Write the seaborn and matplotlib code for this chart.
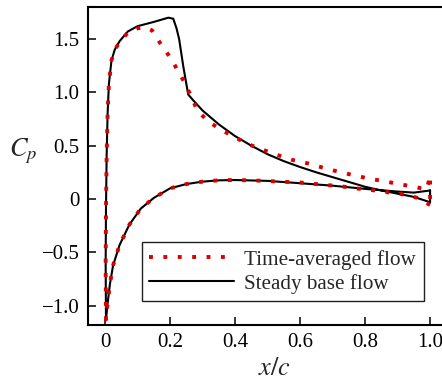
import matplotlib
matplotlib.use("Agg")
import matplotlib.pyplot as plt
import pandas as pd
import numpy as np
import seaborn as sns

# Distribución de Cp: flujo base estacionario y flujo promediado en el tiempo
# (cada curva se recorre de borde de salida -> borde de ataque -> borde de salida)
steady_x = [1.0, 0.95, 0.9, 0.8, 0.7, 0.6, 0.5, 0.4, 0.35, 0.3, 0.25, 0.2, 0.15, 0.11,
            0.075, 0.045, 0.025, 0.015, 0.008, 0.003,
            0.002, 0.003, 0.005, 0.008, 0.012, 0.02, 0.03, 0.045, 0.07, 0.1, 0.15, 0.195,
            0.21, 0.22, 0.228, 0.241, 0.256, 0.27, 0.3, 0.35, 0.4, 0.45, 0.5, 0.55, 0.6,
            0.65, 0.7, 0.75, 0.8, 0.85, 0.9, 0.95, 1.0, 1.0]
steady_cp = [0.08, 0.06, 0.07, 0.095, 0.125, 0.148, 0.17, 0.178, 0.175, 0.163, 0.14, 0.10, 0.01, -0.09,
             -0.24, -0.43, -0.62, -0.80, -0.98, -1.13,
             -0.6, -0.1, 0.4, 0.8, 1.08, 1.30, 1.40, 1.48, 1.57, 1.62, 1.66, 1.70,
             1.69, 1.60, 1.50, 1.24, 0.98, 0.93, 0.83, 0.70, 0.59, 0.50, 0.42, 0.355, 0.30,
             0.25, 0.205, 0.16, 0.115, 0.08, 0.05, 0.02, -0.03, 0.08]

mean_x = [1.0, 0.96, 0.91, 0.87, 0.82, 0.77, 0.72, 0.68, 0.6, 0.54, 0.45, 0.39, 0.35, 0.3,
          0.25, 0.2, 0.15, 0.11, 0.075, 0.045, 0.025, 0.015, 0.008, 0.003,
          0.002, 0.003, 0.005, 0.008, 0.012, 0.02, 0.03, 0.045, 0.07, 0.1, 0.125, 0.145,
          0.17, 0.2, 0.222, 0.246, 0.267, 0.284, 0.318, 0.36, 0.4, 0.444, 0.487, 0.533,
          0.578, 0.624, 0.67, 0.715, 0.762, 0.808, 0.854, 0.9, 0.949, 0.99, 1.0, 1.0]
mean_cp = [-0.056, 0.012, 0.047, 0.063, 0.084, 0.10, 0.122, 0.131, 0.155, 0.163, 0.175, 0.178, 0.175, 0.163,
           0.14, 0.10, 0.01, -0.09, -0.24, -0.43, -0.62, -0.80, -0.98, -1.13,
           -0.6, -0.1, 0.4, 0.8, 1.08, 1.30, 1.40, 1.47, 1.56, 1.60, 1.61, 1.58,
           1.46, 1.33, 1.215, 1.085, 0.95, 0.83, 0.725, 0.645, 0.577, 0.51, 0.46, 0.41,
           0.365, 0.334, 0.294, 0.258, 0.225, 0.194, 0.169, 0.143, 0.115, 0.09, 0.22, -0.056]

labels = ["Time-averaged flow", "Steady base flow"]

xticks = [0, 0.2, 0.4, 0.6, 0.8, 1.0]
xticklabels = ["0", "0.2", "0.4", "0.6", "0.8", "1.0"]
yticks = [-1.0, -0.5, 0, 0.5, 1.0, 1.5]
yticklabels = ["\u22121.0", "\u22120.5", "0", "0.5", "1.0", "1.5"]

steady = pd.DataFrame({"x": steady_x, "cp": steady_cp})
mean = pd.DataFrame({"x": mean_x, "cp": mean_cp})

sns.set_theme(style="ticks")
plt.rcParams["font.family"] = ["Liberation Serif", "DejaVu Serif"]
plt.rcParams["mathtext.fontset"] = "stix"
plt.rcParams["xtick.direction"] = "in"
plt.rcParams["ytick.direction"] = "in"

fig = plt.figure(figsize=(4.42, 3.89), dpi=100)
ax = fig.add_axes([88 / 442, 64 / 389, 358 / 442, 318 / 389])

sns.lineplot(data=steady, x="x", y="cp", sort=False, estimator=None, ax=ax,
             color="black", lw=1.5, zorder=2)
sns.lineplot(data=mean, x="x", y="cp", sort=False, estimator=None, ax=ax,
             color="#d90000", lw=2.8, linestyle=(0, (1.0, 2.7)),
             dash_capstyle="butt", zorder=3)

ax.set_xlim(-0.0523, 1.049)
ax.set_ylim(-1.181, 1.80)
ax.set_xticks(xticks)
ax.set_xticklabels(xticklabels)
ax.set_yticks(yticks)
ax.set_yticklabels(yticklabels)
ax.tick_params(labelsize=15, length=5.5, width=1.1, pad=6, colors="black")
for s in ax.spines.values():
    s.set_linewidth(1.5)
    s.set_color("black")

ax.set_xlabel("$x/c$", fontsize=19)
ax.set_ylabel("$C_p$", fontsize=19, rotation=0)
ax.xaxis.set_label_coords(0.52, -0.105)
ax.yaxis.set_label_coords(-0.18, 0.5)

lines = ax.get_lines()
leg = ax.legend(handles=[lines[1], lines[0]], labels=labels, loc="lower left",
                bbox_to_anchor=(0.151, 0.075), borderaxespad=0, fontsize=15.2,
                handlelength=4.0, handletextpad=0.5, fancybox=False,
                framealpha=1, edgecolor="#222222", borderpad=0.35, labelspacing=0.2)
leg.get_frame().set_linewidth(1.0)

plt.savefig("out.png", dpi=100)
